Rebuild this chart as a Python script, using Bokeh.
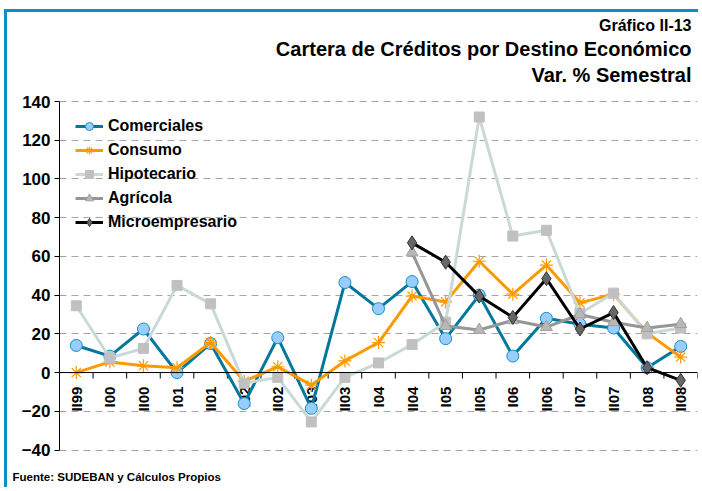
import math
from bokeh.plotting import figure
from bokeh.models import (FixedTicker, Range1d, Legend, LegendItem, Title, Span)
from bokeh.core.properties import value
from bokeh.embed import file_html
from bokeh.resources import INLINE

nan = float("nan")

categories = ["II99", "I00", "II00", "I01", "II01", "I02", "II02", "I03", "II03",
              "I04", "II04", "I05", "II05", "I06", "II06", "I07", "II07", "I08", "II08"]

comerciales = [14, 8.5, 22.5, 0, 15, -16, 18, -18.5, 46.5, 33, 47, 17.5, 40, 8.5,
               28, 25, 23, 2.5, 13.5]
consumo = [0, 5.5, 3.5, 2.5, 15.5, -4.5, 3, -6.5, 6, 15.5, 39.5, 36.5, 57.5, 40.5,
           55.5, 36, 40.5, 20.5, 8]
hipotecario = [34.5, 7.5, 12.5, 45, 35.5, -5.5, -2.5, -25.5, -2.5, 5, 14.5, 26, 132,
               70.5, 73.5, 30.5, 41, 20, 23]
agricola = [nan, nan, nan, nan, nan, nan, nan, nan, nan, nan, 62, 24, 22, 27, 23.5,
            30, 26, 23, 25]
microempresario = [nan, nan, nan, nan, nan, nan, nan, nan, nan, nan, 67, 57, 39.5,
                   28.5, 48.5, 22.5, 31, 2.5, -4]

y_ticks = [-40, -20, 0, 20, 40, 60, 80, 100, 120, 140]

FONT = "Liberation Sans"
BLUE = "#0B8FC7"

x_idx = list(range(len(categories)))
AX0, AX1 = -40, 140           # extent of the value axis
W, H = 694, 478
BL, BR, BT, BB = 52, 4, 73, 22
# pixels per unit and the extra frame room above/below the axis extent
k = 348.5 / (AX1 - AX0)
pad_top_px, pad_bot_px = 16, 18.5
y_lo = AX0 - pad_bot_px / k
y_hi = AX1 + pad_top_px / k

p = figure(width=W, height=H, output_backend="svg", toolbar_location=None,
           x_range=Range1d(-0.5, len(categories) - 0.5), y_range=Range1d(y_lo, y_hi),
           x_axis_type=None, min_border_left=BL, min_border_right=BR,
           min_border_top=BT, min_border_bottom=BB)
p.outline_line_color = None
p.background_fill_color = "white"
p.border_fill_color = "white"
p.styles = {"margin-left": "4px", "margin-top": "9px",
            "border-top": f"3px solid {BLUE}", "border-left": f"3px solid {BLUE}"}

# y axis
p.yaxis.ticker = FixedTicker(ticks=y_ticks)
p.yaxis.bounds = (AX0, AX1)
p.yaxis.axis_line_color = "black"
p.yaxis.major_tick_line_color = "black"
p.yaxis.major_tick_out = 5
p.yaxis.major_tick_in = 0
p.yaxis.minor_tick_line_color = None
p.yaxis.major_label_standoff = 4
p.yaxis.major_label_text_font = FONT
p.yaxis.major_label_text_font_style = "bold"
p.yaxis.major_label_text_font_size = "17px"
p.yaxis.major_label_text_color = "black"
p.ygrid.grid_line_color = "#A6A6A6"
p.ygrid.grid_line_dash = "7 5"
p.ygrid.grid_line_width = 1

# category axis drawn along y = 0: line, tick marks between categories, labels
p.add_layout(Span(location=0, dimension="width", line_color="black", line_width=1))
tick_len = 6 / k
bounds = [i - 0.5 for i in range(len(categories) + 1)]
p.segment(x0=bounds, y0=[0] * len(bounds), x1=bounds, y1=[-tick_len] * len(bounds),
          line_color="black", line_width=1)
p.text(x=x_idx, y=[0] * len(categories), text=categories, angle=math.pi / 2,
       y_offset=14, text_align="right", text_baseline="middle",
       text_font=value(FONT), text_font_style="bold", text_font_size="15px",
       text_color="black")

series = [
    ("Comerciales", comerciales, "#00789C",
     dict(marker="circle", size=12, fill_color="#99CCFF", line_color="#1A8FC0", line_width=1)),
    ("Consumo", consumo, "#FF9900",
     dict(marker="asterisk", size=13, line_color="#FF9900", line_width=1.2)),
    ("Hipotecario", hipotecario, "#C9D9D9",
     dict(marker="square", size=10, fill_color="#C0C0C0", line_color="#C0C0C0", line_width=1)),
    ("Agrícola", agricola, "#969696",
     dict(marker="triangle", size=12, fill_color="#B8B8B8", line_color="#A0A0A0", line_width=1)),
    ("Microempresario", microempresario, "#000000",
     dict(marker="diamond", size=14, fill_color="#666666", line_color="#333333", line_width=1)),
]

items = []
for name, vals, lc, mk in series:
    lr = p.line(x_idx, vals, line_color=lc, line_width=3)
    sr = p.scatter(x_idx, vals, **mk)
    items.append(LegendItem(label=name, renderers=[lr, sr]))

legend = Legend(items=items, location=(16, 236), margin=0, padding=0, spacing=4,
                glyph_width=28, glyph_height=20, label_height=20, label_standoff=5,
                label_text_font=FONT, label_text_font_style="bold",
                label_text_font_size="16px", label_text_color="black",
                border_line_color=None, background_fill_alpha=0)
p.add_layout(legend)

# titles (first added sits nearest the plot)
for t, fs, so in [("Var. % Semestral", "20px", 0),
                  ("Cartera de Créditos por Destino Económico", "20px", 4),
                  ("Gráfico II-13", "16px", 0)]:
    p.add_layout(Title(text=t, align="right", offset=6, text_font=FONT,
                       text_font_style="bold", text_font_size=fs,
                       text_color="black", standoff=so), "above")

p.add_layout(Title(text="Fuente: SUDEBAN y Cálculos Propios", align="left",
                   offset=-47, text_font=FONT, text_font_style="bold",
                   text_font_size="11.5px", text_color="black", standoff=0), "below")

open("out.html", "w").write(file_html(p, INLINE))
